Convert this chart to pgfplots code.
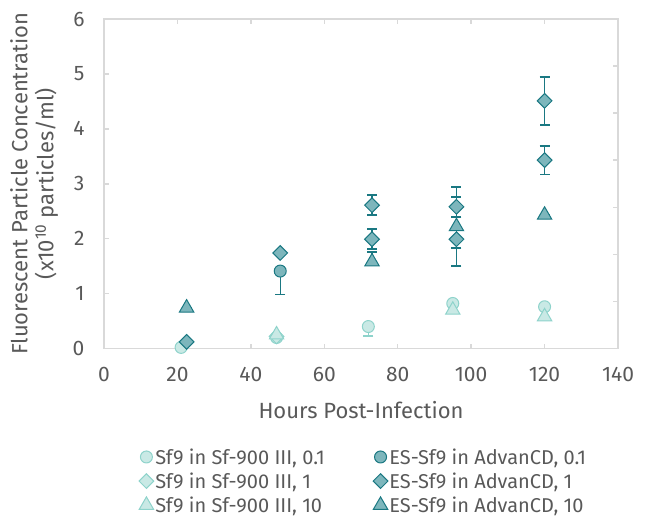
\documentclass[border=0pt]{standalone}
\usepackage{fontspec}
\setmainfont{Fira Sans}
\usepackage{pgfplots}
\pgfplotsset{compat=1.18}
\definecolor{lfill}{HTML}{C9E9E5}
\definecolor{lline}{HTML}{8ED3CB}
\definecolor{dfill}{HTML}{7DB6BC}
\definecolor{dline}{HTML}{1A7882}
\definecolor{txt}{HTML}{595959}
\definecolor{framec}{HTML}{D9D9D9}
\begin{document}
\begin{tikzpicture}
\path[use as bounding box] (0,0) rectangle (652pt,520pt);
\begin{axis}[
 at={(104pt,171.5pt)}, anchor=south west,
 scale only axis, width=514pt, height=329.5pt,
 xmin=0,xmax=140,ymin=0,ymax=7,
 xtick=\empty, ytick={1,...,6}, yticklabels={}, ytick pos=right,
 tick align=inside, major tick length=5pt,
 tick style={draw=framec, line width=1.5pt},
 axis line style={draw=none},
]
\end{axis}
\begin{axis}[
 at={(104pt,171.5pt)}, anchor=south west,
 scale only axis, width=514pt, height=329.5pt,
 xmin=0,xmax=140,ymin=0,ymax=6,
 xtick={0,20,...,140}, ytick={0,...,6},
 ytick pos=left,
 tick align=inside,
 major tick length=5pt,
 tick style={draw=framec, line width=1.5pt},
 axis line style={draw=framec, line width=1.5pt},
 ticklabel style={font=\fontsize{21}{25}\selectfont, text=txt},
 /pgf/number format/assume math mode=true,
 xticklabel style={yshift=-15pt},
 yticklabel style={xshift=-16pt},
 xlabel={Hours Post-Infection},
 ylabel={Fluorescent Particle Concentration\\(x10\textsuperscript{10} particles/ml)},
 label style={font=\fontsize{22}{26}\selectfont, text=txt},
 xlabel style={at={(axis description cs:0.5,-0.187)}, anchor=center},
 ylabel style={at={(axis description cs:-0.136,0.5)}, anchor=center, align=center},
 clip=false,
 legend columns=2,
 legend cell align=left,
 legend style={at={(axis description cs:0.062,-0.292)}, anchor=north west, draw=none, fill=none,
   font=\fontsize{20}{22}\selectfont, text=txt,
   nodes={inner sep=1.5pt}, row sep=4pt,
   /tikz/every even column/.append style={column sep=47pt}},
 legend image code/.code={\draw[mark repeat=2,mark phase=2,#1] plot coordinates {(0pt,0pt) (7pt,0pt) (17pt,0pt)};},
]
% Sf9 in Sf-900 III, 0.1
\addplot[only marks, mark=*, mark size=6pt, line width=1pt, draw=lline, fill=lfill,
  error bars/.cd, y dir=minus, y explicit,
  error bar style={draw=lline, line width=1.3pt},
  error mark options={rotate=90, mark size=5pt, draw=lline, line width=1.8pt}]
 coordinates {(21,0.02) +- (0,0) (47,0.20) +- (0,0) (72,0.40) +- (0,0.17) (95,0.82) +- (0,0) (120,0.76) +- (0,0)};
\addlegendentry{Sf9 in Sf-900 III, 0.1}
% ES-Sf9 in AdvanCD, 0.1
\addplot[only marks, mark=*, mark size=6pt, line width=1pt, draw=dline, fill=dfill,
  error bars/.cd, y dir=minus, y explicit,
  error bar style={draw=dline, line width=1.3pt},
  error mark options={rotate=90, mark size=5pt, draw=dline, line width=1.8pt}]
 coordinates {(48,1.41) +- (0,0.425)};
\addlegendentry{ES-Sf9 in AdvanCD, 0.1}
% Sf9 in Sf-900 III, 1
\addplot[only marks, mark=square*, mark size=5.2pt, line width=1pt, draw=lline, fill=lfill,
  mark options={rotate=45}]
 coordinates {(47,0.22)};
\addlegendentry{Sf9 in Sf-900 III, 1}
% ES-Sf9 in AdvanCD, 1
\addplot[only marks, mark=square*, mark size=5.2pt, line width=1pt, draw=dline, fill=dfill,
  mark options={rotate=45},
  error bars/.cd, y dir=both, y explicit,
  error bar style={draw=dline, line width=1.3pt},
  error mark options={rotate=90, mark size=5pt, draw=dline, line width=1.8pt}]
 coordinates {(22.5,0.12) +- (0,0) (48,1.74) +- (0,0) (73,2.61) +- (0,0.18) (73,1.99) +- (0,0.18)
   (96,2.58) +- (0,0.18) (96,1.99) +- (0,0.16) (120,4.51) +- (0,0.44) (120,3.43) +- (0,0.26)};
\addlegendentry{ES-Sf9 in AdvanCD, 1}
% Sf9 in Sf-900 III, 10
\addplot[only marks, mark=triangle*, mark size=8.3pt, line width=1pt, draw=lline, fill=lfill]
 coordinates {(47,0.25) (95,0.70) (120,0.58)};
\addlegendentry{Sf9 in Sf-900 III, 10}
% ES-Sf9 in AdvanCD, 10
\addplot[only marks, mark=triangle*, mark size=8.3pt, line width=1pt, draw=dline, fill=dfill,
  error bars/.cd, y dir=both, y explicit,
  error bar style={draw=dline, line width=1.3pt},
  error mark options={rotate=90, mark size=5pt, draw=dline, line width=1.8pt}]
 coordinates {(22.5,0.74) +- (0,0) (73,1.58) += (0,0.17) -= (0,0) (96,2.22) +- (0,0.72) (120,2.43) +- (0,0)};
\addlegendentry{ES-Sf9 in AdvanCD, 10}
\end{axis}
\end{tikzpicture}
\end{document}
